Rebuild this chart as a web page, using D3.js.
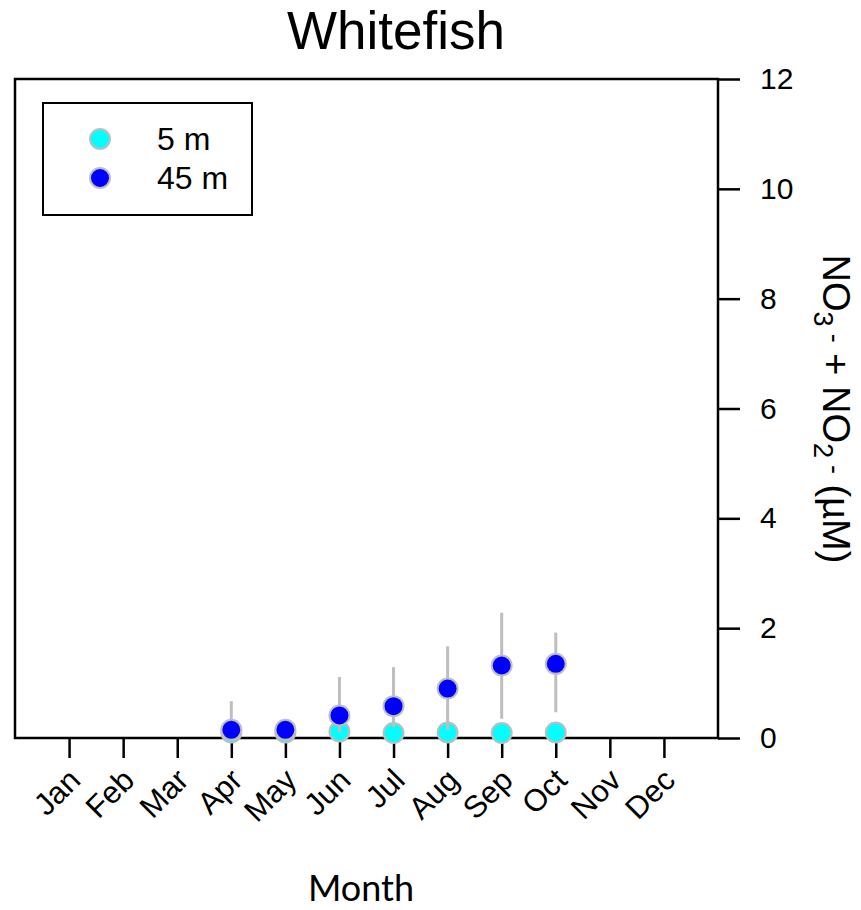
<!DOCTYPE html>
<html>
<head>
<meta charset="utf-8">
<script src="https://cdn.jsdelivr.net/npm/d3@7"></script>
<style>
  html, body { margin: 0; padding: 0; background: #fff; }
  svg { display: block; }
  text { font-family: "Liberation Sans", Arial, sans-serif; fill: #000; }
</style>
</head>
<body>
<div id="chart"></div>
<script>
// Monthly nitrate + nitrite at Whitefish, two sampling depths
const months = ["Jan","Feb","Mar","Apr","May","Jun","Jul","Aug","Sep","Oct","Nov","Dec"];
const sampledMonths = [4, 5, 6, 7, 8, 9, 10];

const mean5  = [0.10, 0.10, 0.12, 0.09, 0.10, 0.09, 0.10];
const low5   = [0.06, 0.07, 0.08, 0.06, 0.07, 0.06, 0.07];
const high5  = [0.14, 0.13, 0.16, 0.12, 0.13, 0.12, 0.13];

const mean45 = [0.15, 0.15, 0.41, 0.58, 0.90, 1.32, 1.35];
const low45  = [0.05, 0.08, 0.10, 0.20, 0.14, 0.35, 0.47];
const high45 = [0.67, 0.26, 1.11, 1.29, 1.67, 2.28, 1.92];

const yTicks = [0, 2, 4, 6, 8, 10, 12];

const series = [
  { name: "5 m",  color: "#00FFFF", mean: mean5,  low: low5,  high: high5 },
  { name: "45 m", color: "#0000FF", mean: mean45, low: low45, high: high45 }
];

const W = 861, H = 910;
const svg = d3.select("#chart").append("svg").attr("width", W).attr("height", H);

const x = d3.scaleLinear().domain([0, 13]).range([15, 718]);
const y = d3.scaleLinear().domain([0, 12]).range([738, 79]);

// Title
svg.append("text")
  .attr("x", 396).attr("y", 49)
  .attr("text-anchor", "middle")
  .style("font-size", "53px")
  .text("Whitefish");

// Right value axis
const yAxis = svg.append("g")
  .attr("transform", `translate(${x(13)},0)`)
  .call(d3.axisRight(y).tickValues(yTicks).tickSize(22).tickPadding(20).tickFormat(d3.format("d")));
yAxis.select(".domain").remove();
yAxis.selectAll(".tick line").attr("stroke", "#000").attr("stroke-width", 2.5);
yAxis.selectAll(".tick text").style("font-size", "30px").style("font-family", "'Liberation Sans', Arial, sans-serif");

// Bottom month axis
const xAxis = svg.append("g")
  .attr("transform", `translate(0,${y(0)})`)
  .call(d3.axisBottom(x).tickValues(d3.range(1, 13)).tickSize(20).tickFormat(""));
xAxis.select(".domain").remove();
xAxis.selectAll(".tick line").attr("stroke", "#000").attr("stroke-width", 2.5);

svg.append("g").selectAll("text")
  .data(months)
  .join("text")
  .attr("text-anchor", "end")
  .attr("transform", (d, i) => `translate(${x(i + 1) + 13},${y(0) + 44}) rotate(-45)`)
  .style("font-size", "31px")
  .text(d => d);

// Plot frame
svg.append("rect")
  .attr("x", x(0)).attr("y", y(12))
  .attr("width", x(13) - x(0)).attr("height", y(0) - y(12))
  .attr("fill", "none").attr("stroke", "#000").attr("stroke-width", 2.5);

// Axis titles
svg.append("text")
  .attr("x", 361).attr("y", 901)
  .attr("text-anchor", "middle")
  .style("font-family", "Lato, 'Open Sans', sans-serif")
  .style("font-size", "36px")
  .text("Month");

const yt = svg.append("text")
  .attr("transform", "translate(823,409) rotate(90)")
  .attr("text-anchor", "middle")
  .style("font-size", "38px");
yt.append("tspan").text("NO");
yt.append("tspan").attr("dy", 9).style("font-size", "27px").text("3");
yt.append("tspan").attr("dy", -12).attr("dx", 7).style("font-size", "27px").text("-");
yt.append("tspan").attr("dy", 3).text(" + NO");
yt.append("tspan").attr("dy", 9).style("font-size", "27px").text("2");
yt.append("tspan").attr("dy", -12).attr("dx", 7).style("font-size", "27px").text("-");
yt.append("tspan").attr("dy", 3).text(" (\u00B5M)");

// Range bars and points, shallow series first
series.forEach(s => {
  const g = svg.append("g");
  g.selectAll("line")
    .data(sampledMonths)
    .join("line")
    .attr("x1", d => x(d)).attr("x2", d => x(d))
    .attr("y1", (d, i) => y(s.low[i])).attr("y2", (d, i) => y(s.high[i]))
    .attr("stroke", "#BEBEBE").attr("stroke-width", 3);
  g.selectAll("circle")
    .data(sampledMonths)
    .join("circle")
    .attr("cx", d => x(d)).attr("cy", (d, i) => y(s.mean[i]))
    .attr("r", 10)
    .attr("fill", s.color).attr("stroke", "#BEBEBE").attr("stroke-width", 2);
});

// Legend
const leg = svg.append("g");
leg.append("rect")
  .attr("x", 43).attr("y", 103).attr("width", 209).attr("height", 112)
  .attr("fill", "#fff").attr("stroke", "#000").attr("stroke-width", 2);
series.forEach((s, i) => {
  const cy = 139 + i * 39;
  leg.append("circle").attr("cx", 100).attr("cy", cy).attr("r", 10)
    .attr("fill", s.color).attr("stroke", "#BEBEBE").attr("stroke-width", 2);
  leg.append("text").attr("x", 157).attr("y", cy + 11)
    .style("font-size", "32px").text(s.name);
});
</script>
</body>
</html>
